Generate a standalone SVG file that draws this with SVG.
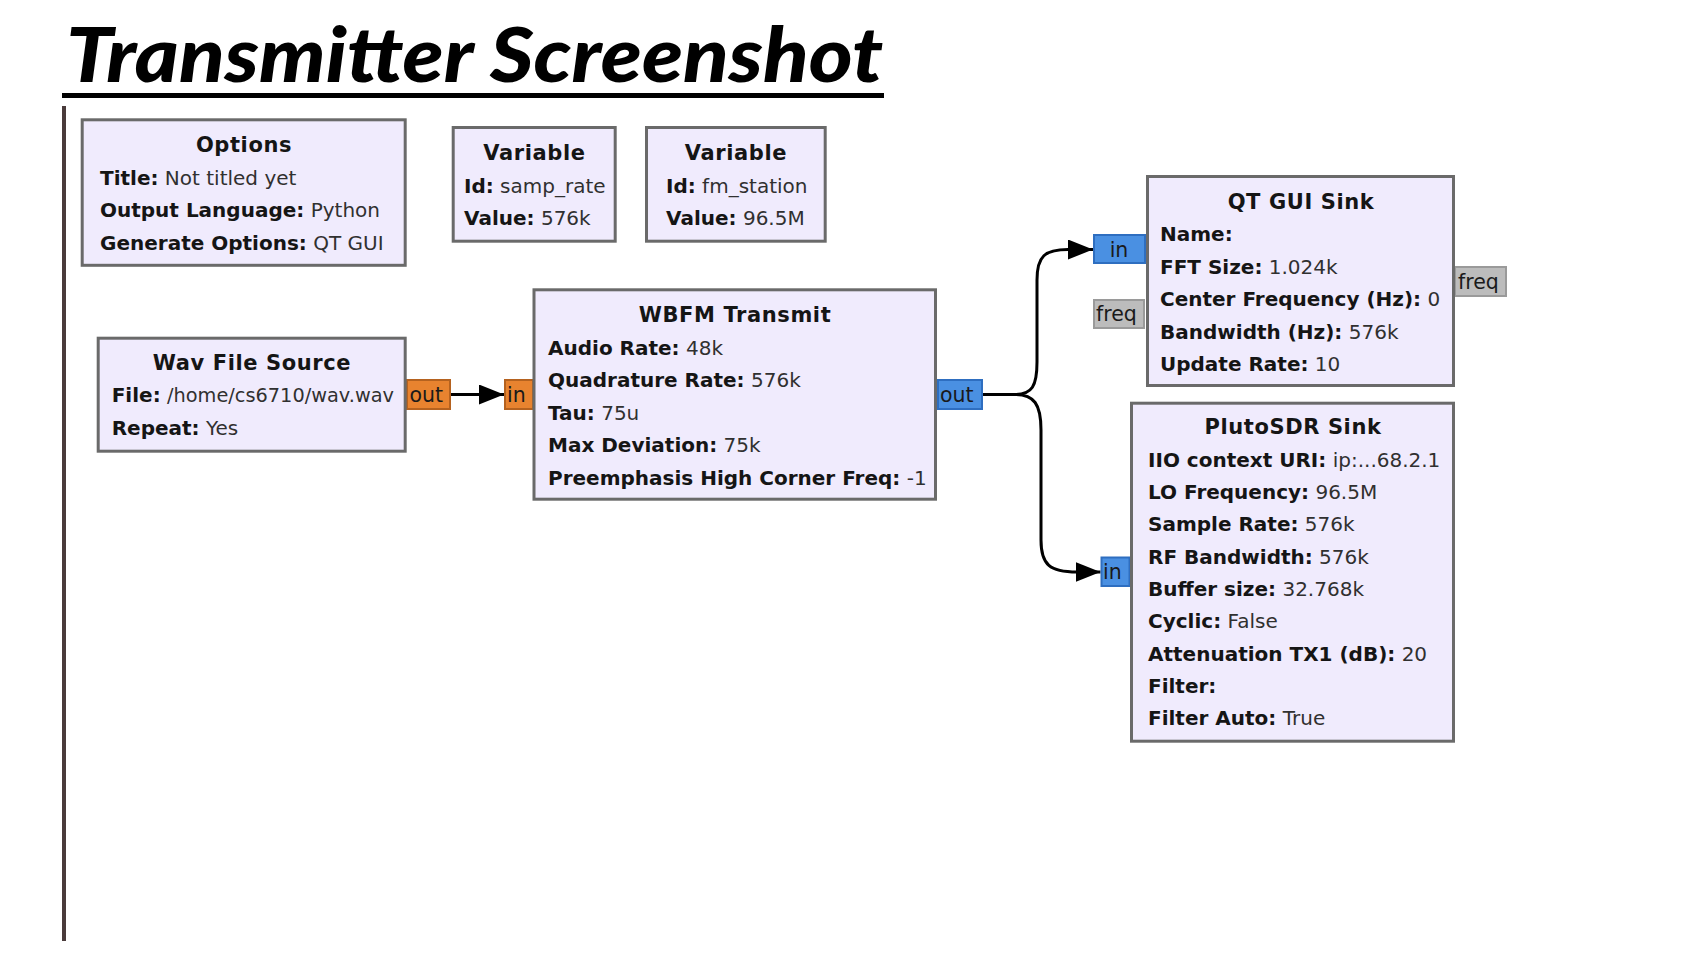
<svg xmlns="http://www.w3.org/2000/svg" width="1702" height="970" viewBox="0 0 1702 970">
<style>
.box{fill:#F0EBFD;stroke:#6a6a6a;stroke-width:3}
.t{font-family:"DejaVu Sans","Liberation Sans",sans-serif;font-size:20px;fill:#151515}
.b{font-weight:bold}
.v{fill:#303030}
.ttl{font-weight:bold;text-anchor:middle;font-size:21px;letter-spacing:0.6px}
.pt{font-family:"DejaVu Sans","Liberation Sans",sans-serif;font-size:20.5px;fill:#1a1a1a}
.po{fill:#E8832F;stroke:#B5621F;stroke-width:2}
.pb{fill:#4A90E2;stroke:#2E6EC0;stroke-width:2}
.pg{fill:#BCBCBC;stroke:#9a9a9a;stroke-width:2}
.wire{fill:none;stroke:#000;stroke-width:3}
</style>
<defs>
<marker id="arr" markerUnits="userSpaceOnUse" markerWidth="26" markerHeight="20" refX="25" refY="10" orient="auto">
<path d="M0,0 L25,10 L0,20 z" fill="#000"/>
</marker>
</defs>
<rect width="1702" height="970" fill="#fff"/>
<g id="heading">
<text x="66" y="82" font-family="Lato,'Open Sans',sans-serif" font-weight="900" font-style="italic" font-size="76" textLength="817" lengthAdjust="spacingAndGlyphs" fill="#000">Transmitter Screenshot</text>
<rect x="62" y="93" width="822" height="5" fill="#000"/>
<rect x="62" y="106" width="4" height="835" fill="#4a3b3b"/>
</g>
<g id="connectors">
<path class="wire" d="M450.7,394.5 L504,394.5" marker-end="url(#arr)"/>
<path class="wire" d="M983,394.5 L1015,394.5 C1032,394.5 1037,386 1037,362 L1037,280 C1037,256 1045,249.5 1068,249.5 L1093,249.5" marker-end="url(#arr)"/>
<path class="wire" d="M983,394.5 L1015,394.5 C1034,394.5 1041,404 1041,430 L1041,540 C1041,565 1050,572 1077,572 L1100.5,572" marker-end="url(#arr)"/>
</g>
<g id="options">
<rect class="box" x="82.2" y="119.8" width="323" height="145.5"/>
<text class="t ttl" x="244" y="152">Options</text>
<text class="t" x="100" y="184.5"><tspan class="b">Title:</tspan><tspan class="v"> Not titled yet</tspan></text>
<text class="t" x="100" y="217"><tspan class="b">Output Language:</tspan><tspan class="v"> Python</tspan></text>
<text class="t" x="100" y="249.5"><tspan class="b">Generate Options:</tspan><tspan class="v"> QT GUI</tspan></text>
</g>
<g id="variable_samp_rate">
<rect class="box" x="453.2" y="127.5" width="162" height="113.7"/>
<text class="t ttl" x="534.5" y="160">Variable</text>
<text class="t" x="464" y="192.5"><tspan class="b">Id:</tspan><tspan class="v"> samp_rate</tspan></text>
<text class="t" x="464" y="225"><tspan class="b">Value:</tspan><tspan class="v"> 576k</tspan></text>
</g>
<g id="variable_fm_station">
<rect class="box" x="646.5" y="127.5" width="178.7" height="113.7"/>
<text class="t ttl" x="736" y="160">Variable</text>
<text class="t" x="666" y="192.5"><tspan class="b">Id:</tspan><tspan class="v"> fm_station</tspan></text>
<text class="t" x="666" y="225"><tspan class="b">Value:</tspan><tspan class="v"> 96.5M</tspan></text>
</g>
<g id="wav_file_source">
<rect class="po" x="407" y="380" width="43" height="29"/>
<text class="pt" x="409.5" y="402">out</text>
<rect class="box" x="98.2" y="338.2" width="307" height="113"/>
<text class="t ttl" x="252" y="370">Wav File Source</text>
<text class="t" x="111.7" y="402"><tspan class="b">File:</tspan></text>
<text class="t v" x="167" y="402" textLength="227" lengthAdjust="spacingAndGlyphs">/home/cs6710/wav.wav</text>
<text class="t" x="111.7" y="434.5"><tspan class="b">Repeat:</tspan><tspan class="v"> Yes</tspan></text>
</g>
<g id="wbfm_transmit">
<rect class="po" x="505" y="380" width="28" height="29"/>
<text class="pt" x="507" y="402">in</text>
<rect class="pb" x="938" y="380" width="44" height="29"/>
<text class="pt" x="940" y="402">out</text>
<rect class="box" x="534" y="289.8" width="401.5" height="209.4"/>
<text class="t ttl" x="735" y="322">WBFM Transmit</text>
<text class="t" x="548" y="354.5"><tspan class="b">Audio Rate:</tspan><tspan class="v"> 48k</tspan></text>
<text class="t" x="548" y="387"><tspan class="b">Quadrature Rate:</tspan><tspan class="v"> 576k</tspan></text>
<text class="t" x="548" y="419.5"><tspan class="b">Tau:</tspan><tspan class="v"> 75u</tspan></text>
<text class="t" x="548" y="452"><tspan class="b">Max Deviation:</tspan><tspan class="v"> 75k</tspan></text>
<text class="t" x="548" y="484.5"><tspan class="b">Preemphasis High Corner Freq:</tspan><tspan class="v"> -1</tspan></text>
</g>
<g id="qt_gui_sink">
<rect class="pb" x="1094" y="235" width="51" height="28"/>
<text class="pt" x="1119" y="257" text-anchor="middle">in</text>
<rect class="pg" x="1094" y="300" width="50" height="28"/>
<text class="pt" x="1096" y="321">freq</text>
<rect class="pg" x="1455" y="267" width="51" height="29"/>
<text class="pt" x="1458" y="289">freq</text>
<rect class="box" x="1147.5" y="176.5" width="306" height="209"/>
<text class="t ttl" x="1301" y="208.5">QT GUI Sink</text>
<text class="t" x="1160" y="241"><tspan class="b">Name:</tspan></text>
<text class="t" x="1160" y="273.5"><tspan class="b">FFT Size:</tspan><tspan class="v"> 1.024k</tspan></text>
<text class="t" x="1160" y="306"><tspan class="b">Center Frequency (Hz):</tspan><tspan class="v"> 0</tspan></text>
<text class="t" x="1160" y="338.5"><tspan class="b">Bandwidth (Hz):</tspan><tspan class="v"> 576k</tspan></text>
<text class="t" x="1160" y="371"><tspan class="b">Update Rate:</tspan><tspan class="v"> 10</tspan></text>
</g>
<g id="plutosdr_sink">
<rect class="pb" x="1101.5" y="557.5" width="28" height="28.5"/>
<text class="pt" x="1103" y="579">in</text>
<rect class="box" x="1131.5" y="403.2" width="322" height="338"/>
<text class="t ttl" x="1293" y="433.5">PlutoSDR Sink</text>
<text class="t" x="1148" y="466.7"><tspan class="b">IIO context URI:</tspan><tspan class="v"> ip:...68.2.1</tspan></text>
<text class="t" x="1148" y="499"><tspan class="b">LO Frequency:</tspan><tspan class="v"> 96.5M</tspan></text>
<text class="t" x="1148" y="531.3"><tspan class="b">Sample Rate:</tspan><tspan class="v"> 576k</tspan></text>
<text class="t" x="1148" y="563.6"><tspan class="b">RF Bandwidth:</tspan><tspan class="v"> 576k</tspan></text>
<text class="t" x="1148" y="596"><tspan class="b">Buffer size:</tspan><tspan class="v"> 32.768k</tspan></text>
<text class="t" x="1148" y="628.3"><tspan class="b">Cyclic:</tspan><tspan class="v"> False</tspan></text>
<text class="t" x="1148" y="660.6"><tspan class="b">Attenuation TX1 (dB):</tspan><tspan class="v"> 20</tspan></text>
<text class="t" x="1148" y="693"><tspan class="b">Filter:</tspan></text>
<text class="t" x="1148" y="725.3"><tspan class="b">Filter Auto:</tspan><tspan class="v"> True</tspan></text>
</g>
</svg>
